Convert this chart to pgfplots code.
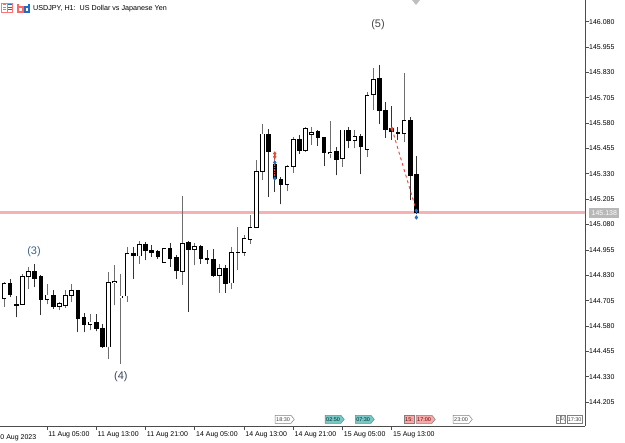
\documentclass[border=0pt]{standalone}
\usepackage{fontspec}
\setmainfont{Liberation Sans}
\usepackage{pgfplots}
\pgfplotsset{compat=1.18}
\usepackage{pgfplotstable}
\usetikzlibrary{shapes.symbols}
\definecolor{wick}{RGB}{110,110,110}
\definecolor{mred}{RGB}{232,72,52}
\definecolor{mblue}{RGB}{30,110,200}
\definecolor{pline}{RGB}{246,178,178}
\definecolor{teal1}{RGB}{120,200,200}
\definecolor{pink1}{RGB}{246,170,170}
\definecolor{wv3}{RGB}{60,100,140}
\definecolor{wv4}{RGB}{55,65,90}
\definecolor{wv5}{RGB}{70,70,70}
\newcommand\tickfont{\fontsize{7}{8}\selectfont}

\pgfplotstableread{
i O H L C
0 144.715 144.797 144.674 144.789
3 144.687 144.838 144.682 144.822
4 144.822 144.871 144.764 144.850
7 144.710 144.789 144.687 144.733
9 144.677 144.698 144.657 144.690
10 144.682 144.756 144.670 144.731
11 144.731 144.789 144.698 144.756
14 144.588 144.641 144.559 144.600
17 144.476 144.847 144.419 144.794
18 144.792 144.879 144.682 144.800
19 144.718 144.838 144.394 144.728
20 144.728 144.970 144.700 144.937
22 144.925 144.999 144.888 144.983
26 144.893 144.962 144.893 144.962
29 144.850 145.220 144.784 144.986
31 144.957 144.991 144.879 144.970
35 144.830 144.888 144.743 144.863
37 144.792 144.970 144.764 144.942
38 144.942 145.069 144.855 144.945
39 144.942 145.027 144.924 145.011
40 145.008 145.126 144.986 145.065
41 145.065 145.397 145.065 145.343
42 145.343 145.575 145.302 145.526
46 145.277 145.373 145.245 145.365
47 145.365 145.513 145.335 145.499
49 145.447 145.559 145.439 145.554
50 145.524 145.562 145.471 145.534
53 145.430 145.592 145.406 145.437
55 145.405 145.546 145.364 145.546
57 145.496 145.546 145.455 145.516
59 145.450 145.735 145.414 145.718
60 145.721 145.850 145.644 145.795
65 145.529 145.825 145.488 145.592
}\bull

\pgfplotstableread{
i O H L C
1 144.789 144.814 144.723 144.735
2 144.685 144.726 144.623 144.680
5 144.847 144.888 144.772 144.814
6 144.825 144.830 144.633 144.710
8 144.733 144.759 144.666 144.677
12 144.756 144.756 144.550 144.616
13 144.620 144.646 144.550 144.588
15 144.600 144.641 144.555 144.567
16 144.570 144.592 144.473 144.476
21 144.937 144.970 144.814 144.925
23 144.981 144.995 144.904 144.950
24 144.953 144.978 144.921 144.940
25 144.948 144.957 144.912 144.921
27 144.962 144.990 144.871 144.912
28 144.917 144.929 144.814 144.851
30 144.990 144.998 144.649 144.957
32 144.970 144.981 144.888 144.912
33 144.912 144.953 144.888 144.907
34 144.907 144.960 144.822 144.830
36 144.863 144.879 144.743 144.789
43 145.526 145.549 145.217 145.439
44 145.375 145.440 145.240 145.305
45 145.302 145.315 145.180 145.277
48 145.499 145.521 145.430 145.447
51 145.537 145.546 145.468 145.509
52 145.509 145.513 145.368 145.434
54 145.439 145.463 145.323 145.401
56 145.546 145.562 145.455 145.496
58 145.516 145.524 145.327 145.463
61 145.800 145.866 145.575 145.644
62 145.644 145.685 145.509 145.550
63 145.552 145.664 145.499 145.540
64 145.536 145.562 145.496 145.529
66 145.592 145.608 145.200 145.323
67 145.327 145.417 145.130 145.138
}\bear

\begin{document}
\begin{tikzpicture}
\begin{axis}[
  at={(0,0)}, anchor=south west,
  width=585bp, height=426bp, scale only axis,
  xmin=-0.65, xmax=94.4, ymin=144.087, ymax=146.187,
  axis x line=bottom, axis y line=right,
  axis line style={-, black!70, line width=0.8bp},
  x axis line style={-}, y axis line style={-},
  tick align=outside, major tick length=4bp,
  tick style={black!70, line width=0.7bp},
  ytick={144.205,144.330,144.455,144.580,144.705,144.830,144.955,145.080,145.205,145.330,145.455,145.580,145.705,145.830,145.955,146.080},
  yticklabels={144.205,144.330,144.455,144.580,144.705,144.830,144.955,145.080,145.205,145.330,145.455,145.580,145.705,145.830,145.955,146.080},
  yticklabel style={anchor=west, inner sep=0pt, font=\tickfont},
  xtick={7,15,23,31,39,47,55,63},
  xticklabels={11 Aug 05:00,11 Aug 13:00,11 Aug 21:00,14 Aug 05:00,14 Aug 13:00,14 Aug 21:00,15 Aug 05:00,15 Aug 13:00},
  xticklabel style={anchor=north west, inner sep=0pt, font=\tickfont, xshift=1.2bp, yshift=-1bp, text height=5bp, text depth=1.3bp},
  clip=true,
  candle/.style={only marks, mark=*, mark size=0pt, mark options={draw=none, fill=none}, forget plot},
]
% price line
\addplot[pline, line width=1.4bp, forget plot] coordinates {(-1,145.141) (95,145.141)};
\addplot[black!22, line width=0.9bp, forget plot] coordinates {(-1,145.133) (95,145.133)};
% wicks
\addplot[candle, error bars/.cd, y dir=plus, y explicit, error mark=none,
  error bar style={line width=1bp, draw=wick}]
  table[x=i, y=L, y error expr=\thisrow{H}-\thisrow{L}] {\bull};
\addplot[candle, error bars/.cd, y dir=plus, y explicit, error mark=none,
  error bar style={line width=1bp, draw=black!80}]
  table[x=i, y=L, y error expr=\thisrow{H}-\thisrow{L}] {\bear};
% bodies
\addplot[candle, error bars/.cd, y dir=plus, y explicit, error mark=none,
  error bar style={line width=4.6bp, draw=black}]
  table[x=i, y expr=\thisrow{O}-0.002, y error expr=\thisrow{C}-\thisrow{O}+0.004] {\bull};
\addplot[candle, error bars/.cd, y dir=plus, y explicit, error mark=none,
  error bar style={line width=3.0bp, draw=white}]
  table[x=i, y expr=\thisrow{O}+0.002, y error expr={max(\thisrow{C}-\thisrow{O}-0.004,0)}] {\bull};
\addplot[candle, error bars/.cd, y dir=plus, y explicit, error mark=none,
  error bar style={line width=4.6bp, draw=black}]
  table[x=i, y expr=\thisrow{C}-0.002, y error expr=\thisrow{O}-\thisrow{C}+0.004] {\bear};
% trade objects
\addplot[mred, densely dotted, line width=0.7bp, forget plot] coordinates {(44,145.414) (44,145.307)};
\addplot[mred, dashed, line width=0.9bp, forget plot] coordinates {(63.04,145.552) (67,145.148)};
\addplot[only marks, mark=diamond*, mark size=1.9bp, mred, forget plot] coordinates {(44,145.430) (44,145.414) (63.04,145.552)};
\addplot[only marks, mark=diamond*, mark size=1.9bp, mblue, forget plot] coordinates {(44,145.386) (44,145.307) (67,145.148) (67,145.115)};
% wave labels
\node[wv3, font=\fontsize{11}{12}\selectfont] at (axis cs:4.87,144.944) {(3)};
\node[wv4, font=\fontsize{11}{12}\selectfont] at (axis cs:19.0,144.332) {(4)};
\node[wv5, font=\fontsize{11}{12}\selectfont] at (axis cs:60.76,146.064) {(5)};
% event markers
\tikzset{ev/.style={signal, signal to=east, signal pointer angle=100, draw=black!50, line width=0.5bp,
  font=\fontsize{5.5}{6}\selectfont, inner xsep=1bp, inner ysep=0.5bp, minimum height=8bp, anchor=south west, text=black!75}}
\node[ev, fill=white] at (axis cs:44.03,144.099) {18:30};
\node[ev, fill=teal1, text=black!70!teal] at (axis cs:52.15,144.099) {02:50};
\node[ev, fill=teal1, text=black!70!teal] at (axis cs:57.03,144.099) {07:30};
\node[ev, fill=pink1, signal to=nowhere, text=black!60!red] at (axis cs:64.99,144.099) {15:};
\node[ev, fill=pink1, text=black!60!red] at (axis cs:66.94,144.099) {17:00};
\node[ev, fill=white] at (axis cs:72.95,144.099) {23:00};
\node[ev, fill=white, signal to=nowhere, inner xsep=0.4bp] at (axis cs:89.7,144.099) {1};
\node[ev, fill=white, signal to=nowhere, inner xsep=0.4bp] at (axis cs:90.3,144.099) {1(};
\node[ev, fill=white, signal to=nowhere] at (axis cs:91.4,144.099) {17:30};
\coordinate (pl) at (axis cs:94.4,145.138);
\end{axis}
% first date label (cut at the left edge)
\node[anchor=north west, inner sep=0pt, font=\tickfont, text height=5bp, text depth=1.3bp] at (-3.6bp,-8bp) {10 Aug 2023};
% price label
\node[anchor=west, fill=black!28, text=white, font=\tickfont, inner xsep=2.5bp, minimum height=10bp, inner ysep=0pt] at ([xshift=4bp]pl) {145.138};
% title
\node[anchor=west, inner sep=0pt, font=\fontsize{7.2}{8}\selectfont] at (33bp,417.5bp) {USDJPY, H1:\ \ US Dollar vs Japanese Yen};
% icons
\fill[red!55] (1bp,413bp) rectangle (13bp,423bp);
\fill[white] (2bp,414bp) rectangle (6.5bp,422bp);
\fill[white] (7.5bp,414bp) rectangle (12bp,422bp);
\foreach \yy in {415.5,418,420.5} {\fill[mblue] (8bp,\yy bp) rectangle (11.5bp,\yy bp+1.2bp); \fill[red!60] (2.5bp,\yy bp) rectangle (6bp,\yy bp+1.2bp);}
\draw[red!60, line width=1.2bp] (18bp,422bp) -- (18bp,414bp) -- (23bp,414bp) -- (23bp,419bp) -- (18bp,419bp);
\draw[mblue, line width=1.2bp] (29bp,422bp) -- (29bp,414bp) -- (25bp,414bp) -- (25bp,419bp) -- (29bp,419bp);
% shift marker
\fill[black!25] (412bp,426bp) -- (420bp,426bp) -- (416bp,421bp) -- cycle;
\pgfresetboundingbox
\path (0bp,-17bp) rectangle (625bp,426bp);
\end{tikzpicture}
\end{document}
